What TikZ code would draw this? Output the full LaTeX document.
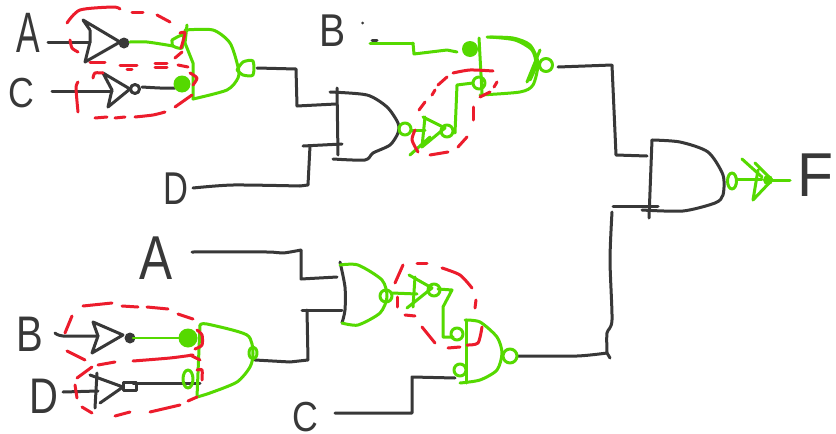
\documentclass[tikz,border=0pt]{standalone}
\usepackage{fontspec}
\setmainfont{Liberation Sans}
\definecolor{inkc}{HTML}{383838}
\definecolor{grn}{HTML}{55D900}
\definecolor{rd}{HTML}{EC1C2C}
\tikzset{
 ink/.style={draw=inkc,line width=3pt,line cap=round,line join=round},
 gr/.style={draw=grn,line width=3pt,line cap=round,line join=round},
 grt/.style={draw=grn,line width=2.6pt,line cap=round,line join=round},
 rdash/.style={draw=rd,line width=3pt,line cap=round,line join=round},
 lbl/.style={inner sep=0pt,text=inkc}
}
\newcommand{\sk}[2]{\draw[#1] plot[smooth,tension=.45] coordinates {#2};}
\newcommand{\pl}[2]{\draw[#1] plot[sharp plot] coordinates {#2};}
\newcommand{\lab}[6]{\node[lbl,xscale=#5] (#1) at (#2,#3) {\fontsize{#4pt}{#4pt}\selectfont #6};}
\begin{document}
\begin{tikzpicture}[x=1pt,y=-1pt]
\useasboundingbox (0,0) rectangle (836,434);
\fill[white] (0,0) rectangle (836,434);
% labels
\lab{la}{28}{33}{57}{0.62}{A}
\lab{lc}{21}{93}{42}{0.85}{C}
\lab{ld}{176}{189}{46}{0.75}{D}
\lab{lb}{333}{31}{46}{0.85}{B}
\lab{lf}{815}{175}{62}{0.95}{F}
\lab{la2}{156}{258}{62}{0.8}{A}
\lab{lb2}{30}{334}{50}{0.8}{B}
\lab{ld2}{44}{396}{50}{0.8}{D}
\lab{lc2}{305}{417}{42}{0.85}{C}
% black: inverters and wires, top left
\pl{ink}{(48,42) (90,42)}
\pl{ink}{(90,30) (83,20) (120,42) (85,62) (90,42) (90,30)}
\fill[inkc] (124,43) circle (5.5);
\pl{ink}{(52,91) (112,91)}
\pl{ink}{(103,73) (112,90) (108,107) (130,89) (103,73)}
\draw[ink] (135,89) circle (4.5);
\sk{ink}{(142,87) (160,88) (175,88)}
\pl{ink}{(257,68) (296,69) (297,106) (336,104)}
\sk{ink}{(193,188) (233,185) (300,186)}
\pl{ink}{(300,186) (308,185) (310,146)}
\pl{ink}{(303,146) (342,144)}
% AND 2
\pl{ink}{(337,88) (338,155)}
\sk{ink}{(330,92) (367,95) (387,107) (398,123) (398,133) (390,145) (373,153) (365,160) (333,159)}
\fill[inkc] (362.7,23) circle (1.5);
\pl{ink}{(372,40) (377,40)}
% output to AND 3
\pl{ink}{(558,67) (612,65) (616,155) (647,156)}
\pl{ink}{(652,140) (649,218)}
\sk{ink}{(652,140) (680,142) (708,152) (723,175) (723,195) (715,203) (683,211) (642,210)}
\pl{ink}{(613,206) (658,206)}
\sk{ink}{(612,212) (610,260) (612,320) (607,333) (607,352)}
\sk{ink}{(518,356) (577,356) (607,353)}
\pl{ink}{(607,353) (610,358)}
% lower black
\sk{ink}{(192,252) (267,252) (283,253) (301,250)}
\pl{ink}{(301,250) (301,279) (337,277)}
\pl{ink}{(302,310) (342,310)}
\pl{ink}{(307,310) (308,360) (290,362) (255,360)}
\sk{ink}{(340,262) (345,287) (345,310) (342,323)}
\pl{ink}{(335,413) (412,413) (412,377) (455,378)}
\sk{ink}{(55,333) (63,336) (98,336)}
\pl{ink}{(93,322) (123,335) (92,353) (98,336) (93,322)}
\fill[inkc] (130,338) circle (5.5);
\pl{ink}{(63,392) (98,391)}
\pl{ink}{(90,375) (123,387) (100,403)}
\pl{ink}{(97,373) (95,408)}
\draw[ink] (123,382) rectangle (136,390);
\pl{ink}{(133,383) (200,383)}
% green top-left gate
\sk{gr}{(130,42) (147,42) (173,46)}
\sk{gr}{(172,40) (183,35) (182,48) (173,46) (172,40)}
\pl{gr}{(187,25) (185,43) (193,63) (193,99)}
\sk{gr}{(185,30) (213,30) (230,43) (238,67) (238,78) (227,90) (193,99)}
\sk{gr}{(237,70) (243,62) (253,61) (253,75) (243,75) (237,70)}
\fill[grn] (182,84) circle (8.5);
% green: upper right
\sk{gr}{(370,43) (413,43)}
\pl{gr}{(413,43) (414,54) (447,50) (457,52)}
\fill[grn] (470,49) circle (8);
\draw[gr] (405,129) circle (6);
\pl{gr}{(412,130) (425,130)}
\pl{gr}{(423,117) (445,128) (422,147) (425,117)}
\pl{gr}{(410,155) (430,137)}
\draw[gr] (447,131) circle (6);
\pl{gr}{(455,133) (457,85) (473,83)}
\draw[gr] (479,83) circle (6);
\pl{gr}{(479,38) (482,93)}
\sk{gr}{(480,95) (520,92) (533,85) (538,63) (530,45) (513,38) (487,37)}
\sk{gr}{(490,37) (515,40) (532,50) (536,65) (530,80)}
\pl{gr}{(527,82) (540,50)}
\draw[gr] (546,65) circle (6.5);
% green: final inverter
\draw[gr] (732,181) ellipse (4.5 and 8);
\pl{gr}{(737,179) (762,179)}
\pl{gr}{(742,159) (762,177)}
\pl{gr}{(755,163) (772,180) (753,200) (758,170)}
\fill[grn] (768,180) circle (5);
\pl{gr}{(768,180) (790,180)}
% green lower
\sk{gr}{(340,265) (358,265) (382,280) (387,297) (380,313) (358,325) (342,323)}
\draw[gr] (386,296) circle (6);
\pl{gr}{(392,293) (417,294)}
\pl{gr}{(409,275) (432,288) (407,308)}
\pl{gr}{(415,277) (413,307)}
\draw[gr] (434,290) circle (6);
\pl{gr}{(438,289) (452,290) (443,307) (443,337) (453,337)}
\draw[gr] (457,334) circle (6);
\pl{gr}{(466,320) (466,383)}
\sk{gr}{(465,320) (480,322) (497,337) (502,353) (497,370) (480,380) (460,383)}
\draw[gr] (460,370) circle (6);
\draw[gr] (510,356) circle (7);
% green lower-left gate
\pl{grt}{(133,338) (180,338)}
\fill[grn] (188,338) circle (9.5);
\pl{gr}{(200,325) (197,397)}
\sk{gr}{(200,325) (207,324) (247,335) (253,353) (250,367) (237,382) (210,393) (197,397)}
\draw[gr] (253,353) ellipse (4 and 6);
\draw[gr] (188,379) ellipse (5 and 9);
% red dashes: top-left
\sk{rdash}{(67,23) (80,10) (113,7) (120,9)}
\sk{rdash}{(132,12) (143,12)}
\sk{rdash}{(157,15) (170,22)}
\sk{rdash}{(180,33) (185,33) (181,48)}
\sk{rdash}{(175,58) (182,52)}
\sk{rdash}{(155,63) (167,63)}
\sk{rdash}{(155,67) (167,67)}
\sk{rdash}{(120,65) (137,65)}
\sk{rdash}{(127,69) (132,69)}
\sk{rdash}{(90,62) (105,62)}
\sk{rdash}{(70,40) (72,48) (78,52)}
\sk{rdash}{(178,65) (188,67)}
\sk{rdash}{(190,73) (197,78) (193,85)}
\sk{rdash}{(192,95) (175,107)}
\sk{rdash}{(165,112) (153,115) (135,117)}
\sk{rdash}{(125,117) (115,118)}
\sk{rdash}{(107,117) (95,118)}
\sk{rdash}{(78,82) (76,88) (78,112)}
\sk{rdash}{(93,78) (95,73) (103,73)}
% red: top right
\sk{rdash}{(453,73) (470,70) (493,71)}
\sk{rdash}{(447,77) (438,85)}
\sk{rdash}{(435,90) (432,95)}
\sk{rdash}{(425,102) (419,110)}
\sk{rdash}{(415,130) (412,140) (418,152)}
\sk{rdash}{(430,155) (448,152)}
\sk{rdash}{(458,147) (467,137)}
\sk{rdash}{(473,107) (473,120)}
\sk{rdash}{(480,97) (490,92)}
\sk{rdash}{(494,87) (497,82)}
% red: lower left
\sk{rdash}{(83,306) (112,303)}
\sk{rdash}{(122,306) (138,307)}
\sk{rdash}{(147,307) (168,309)}
\sk{rdash}{(178,314) (193,319)}
\sk{rdash}{(197,330) (202,335) (202,345) (195,349)}
\sk{rdash}{(72,316) (65,333)}
\sk{rdash}{(67,351) (85,360)}
\sk{rdash}{(133,361) (170,358) (193,355)}
\sk{rdash}{(98,365) (115,362)}
\sk{rdash}{(92,367) (77,378)}
\sk{rdash}{(75,385) (77,398)}
\sk{rdash}{(82,407) (92,413)}
\sk{rdash}{(115,416) (130,412)}
\sk{rdash}{(150,412) (180,405)}
\sk{rdash}{(188,401) (197,397)}
\sk{rdash}{(190,355) (200,360)}
\sk{rdash}{(197,370) (202,370) (202,380)}
% red: lower right
\sk{rdash}{(403,265) (395,283)}
\sk{rdash}{(397,297) (397,307)}
\sk{rdash}{(405,315) (415,316)}
\sk{rdash}{(422,327) (435,343)}
\sk{rdash}{(448,348) (460,347)}
\sk{rdash}{(467,345) (478,343) (482,327)}
\sk{rdash}{(476,300) (475,308)}
\sk{rdash}{(472,288) (460,275) (442,268)}
\sk{rdash}{(417,263) (427,263)}
\end{tikzpicture}
\end{document}
